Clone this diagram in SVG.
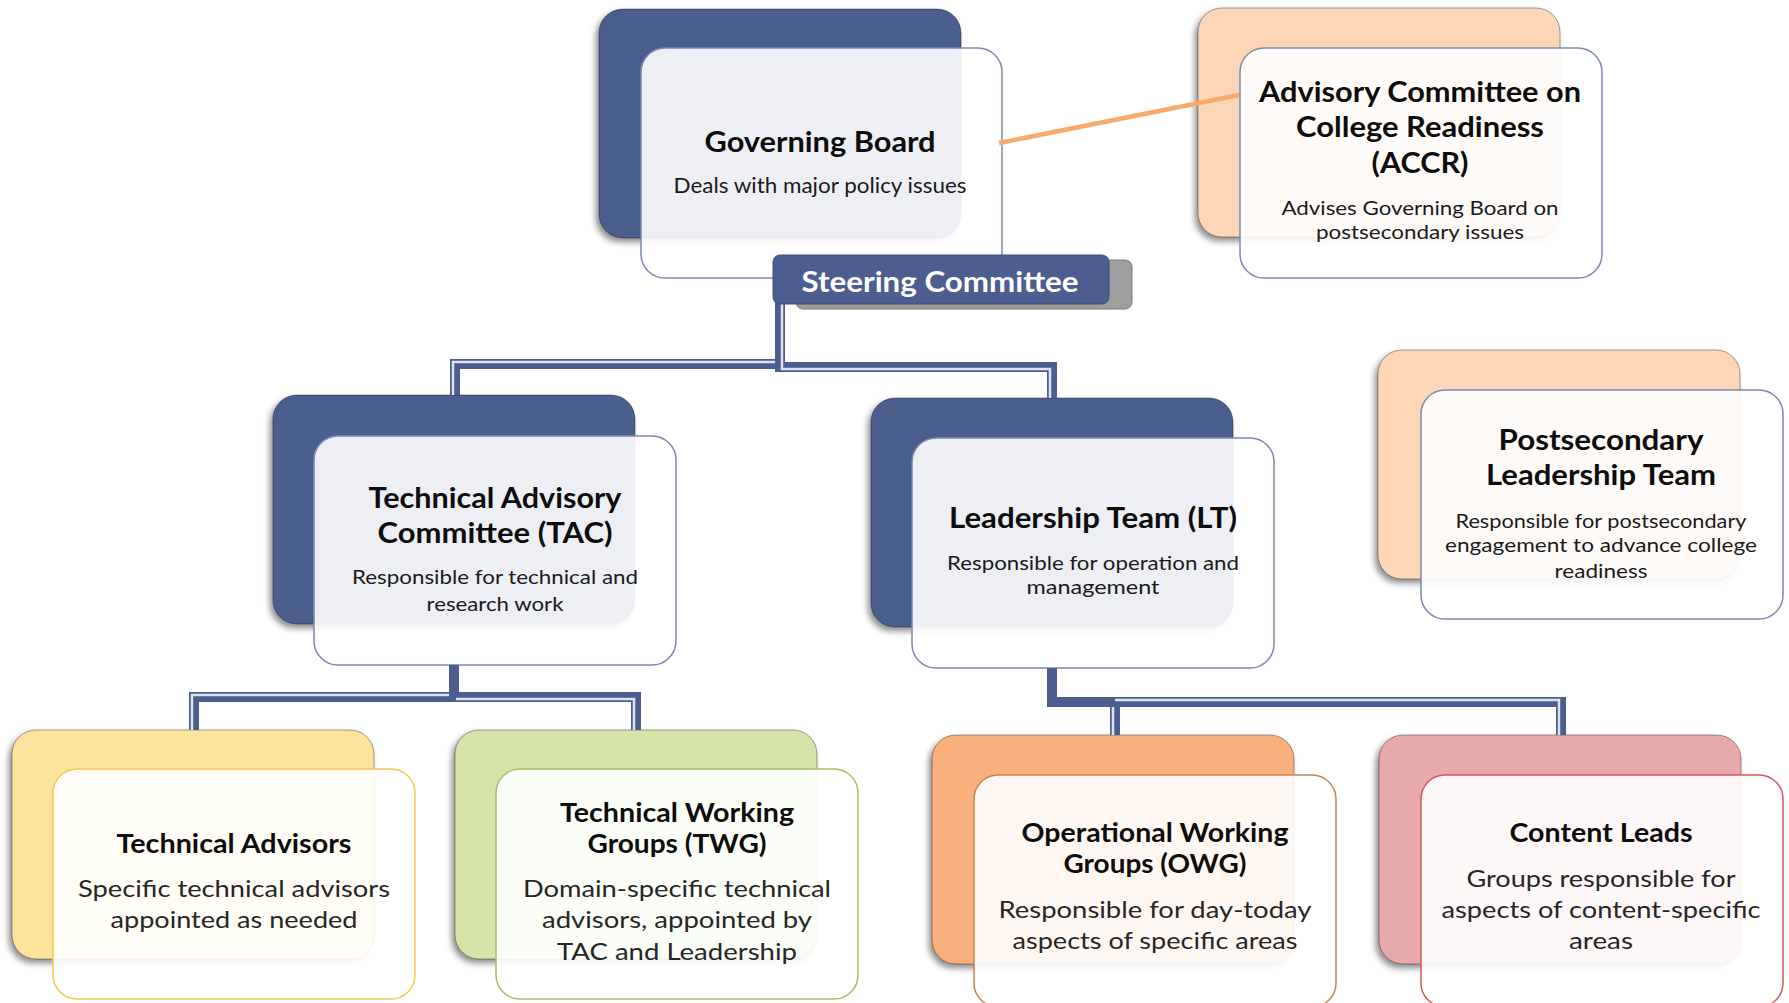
<svg xmlns="http://www.w3.org/2000/svg" width="1789" height="1003" viewBox="0 0 1789 1003">
<defs>
<filter id="sh" x="-10%" y="-10%" width="125%" height="130%">
<feDropShadow dx="-3" dy="4" stdDeviation="3" flood-color="#000" flood-opacity="0.45"/>
</filter>
</defs>
<style>
.back{stroke:#000;stroke-opacity:0.35;stroke-width:1;filter:url(#sh)}
.b-blue{fill:#4b5e8f}
.b-peach{fill:#fcd6b6}
.b-yellow{fill:#fde49d}
.b-green{fill:#d6e4a9}
.b-orange{fill:#f9b07b}
.b-pink{fill:#e8a9aa}
.front{fill:#fff;fill-opacity:0.9;stroke-width:1.5}
.f-blue{stroke:#7b88b3}
.f-yellow{stroke:#f5c84c}
.f-green{stroke:#a3c064}
.f-orange{stroke:#c58450}
.f-pink{stroke:#d9565d}
text{font-family:Lato,"Liberation Sans",sans-serif;text-anchor:middle}
.t{font-weight:700;font-size:28px;fill:#0d0d0d}
.t2{font-weight:700;font-size:26px;fill:#0d0d0d}
.s{font-size:20px;fill:#1a1a1a}
.s2{font-size:24px;fill:#262626}
.dl{fill:none;stroke:#4b5e8f;stroke-width:10;stroke-linejoin:miter}
.dli{fill:none;stroke:#dfe3ee;stroke-width:2.5;stroke-linejoin:miter}
</style>
<rect width="1789" height="1003" fill="#fff"/>

<g id="governing-board">
<rect class="back b-blue" x="599" y="9" width="362" height="229" rx="24"/>
<rect class="front f-blue" x="641" y="48" width="361" height="230" rx="24"/>
<text class="t" x="820" y="152" textLength="231" lengthAdjust="spacingAndGlyphs">Governing Board</text>
<text class="s" x="820" y="193" font-size="22" textLength="293" lengthAdjust="spacingAndGlyphs" style="font-size:22px">Deals with major policy issues</text>
</g>

<g id="accr">
<rect class="back b-peach" x="1198" y="8" width="362" height="229" rx="24"/>
<rect class="front f-blue" x="1240" y="48" width="362" height="230" rx="24"/>
<text class="t" x="1420" y="102" textLength="322" lengthAdjust="spacingAndGlyphs">Advisory Committee on</text>
<text class="t" x="1420" y="137" textLength="248" lengthAdjust="spacingAndGlyphs">College Readiness</text>
<text class="t" x="1420" y="173" textLength="97" lengthAdjust="spacingAndGlyphs">(ACCR)</text>
<text class="s" x="1420" y="215" textLength="277" lengthAdjust="spacingAndGlyphs">Advises Governing Board on</text>
<text class="s" x="1420" y="239" textLength="208" lengthAdjust="spacingAndGlyphs">postsecondary issues</text>
</g>

<g id="tac">
<rect class="back b-blue" x="273" y="395" width="362" height="229" rx="24"/>
<rect class="front f-blue" x="314" y="436" width="362" height="229" rx="24"/>
<text class="t" x="495" y="508" textLength="253" lengthAdjust="spacingAndGlyphs">Technical Advisory</text>
<text class="t" x="495" y="543" textLength="235" lengthAdjust="spacingAndGlyphs">Committee (TAC)</text>
<text class="s" x="495" y="584" textLength="286" lengthAdjust="spacingAndGlyphs">Responsible for technical and</text>
<text class="s" x="495" y="611" textLength="137" lengthAdjust="spacingAndGlyphs">research work</text>
</g>

<g id="lt">
<rect class="back b-blue" x="871" y="398" width="362" height="229" rx="24"/>
<rect class="front f-blue" x="912" y="438" width="362" height="230" rx="24"/>
<text class="t" x="1093" y="528" textLength="288" lengthAdjust="spacingAndGlyphs">Leadership Team (LT)</text>
<text class="s" x="1093" y="570" textLength="292" lengthAdjust="spacingAndGlyphs">Responsible for operation and</text>
<text class="s" x="1093" y="594" textLength="133" lengthAdjust="spacingAndGlyphs">management</text>
</g>

<g id="postsecondary-lt">
<rect class="back b-peach" x="1378" y="350" width="362" height="229" rx="24"/>
<rect class="front f-blue" x="1421" y="390" width="362" height="229" rx="24"/>
<text class="t" x="1601" y="450" textLength="205" lengthAdjust="spacingAndGlyphs">Postsecondary</text>
<text class="t" x="1601" y="485" textLength="230" lengthAdjust="spacingAndGlyphs">Leadership Team</text>
<text class="s" x="1601" y="528" textLength="291" lengthAdjust="spacingAndGlyphs">Responsible for postsecondary</text>
<text class="s" x="1601" y="552" textLength="312" lengthAdjust="spacingAndGlyphs">engagement to advance college</text>
<text class="s" x="1601" y="578" textLength="93" lengthAdjust="spacingAndGlyphs">readiness</text>
</g>

<g id="technical-advisors">
<rect class="back b-yellow" x="12" y="730" width="362" height="229" rx="24"/>
<rect class="front f-yellow" x="53" y="769" width="362" height="230" rx="24"/>
<text class="t2" x="234" y="853" textLength="235" lengthAdjust="spacingAndGlyphs">Technical Advisors</text>
<text class="s2" x="234" y="897" textLength="312" lengthAdjust="spacingAndGlyphs">Specific technical advisors</text>
<text class="s2" x="234" y="928" textLength="247" lengthAdjust="spacingAndGlyphs">appointed as needed</text>
</g>

<g id="twg">
<rect class="back b-green" x="455" y="730" width="362" height="229" rx="24"/>
<rect class="front f-green" x="496" y="769" width="362" height="230" rx="24"/>
<text class="t2" x="677" y="822" textLength="234" lengthAdjust="spacingAndGlyphs">Technical Working</text>
<text class="t2" x="677" y="853" textLength="179" lengthAdjust="spacingAndGlyphs">Groups (TWG)</text>
<text class="s2" x="677" y="897" textLength="308" lengthAdjust="spacingAndGlyphs">Domain-specific technical</text>
<text class="s2" x="677" y="928" textLength="270" lengthAdjust="spacingAndGlyphs">advisors, appointed by</text>
<text class="s2" x="677" y="960" textLength="240" lengthAdjust="spacingAndGlyphs">TAC and Leadership</text>
</g>

<g id="owg">
<rect class="back b-orange" x="932" y="735" width="362" height="229" rx="24"/>
<rect class="front f-orange" x="974" y="775" width="362" height="232" rx="24"/>
<text class="t2" x="1155" y="842" textLength="267" lengthAdjust="spacingAndGlyphs">Operational Working</text>
<text class="t2" x="1155" y="873" textLength="183" lengthAdjust="spacingAndGlyphs">Groups (OWG)</text>
<text class="s2" x="1155" y="918" textLength="313" lengthAdjust="spacingAndGlyphs">Responsible for day-today</text>
<text class="s2" x="1155" y="949" textLength="285" lengthAdjust="spacingAndGlyphs">aspects of specific areas</text>
</g>

<g id="content-leads">
<rect class="back b-pink" x="1379" y="735" width="362" height="229" rx="24"/>
<rect class="front f-pink" x="1421" y="775" width="362" height="232" rx="24"/>
<text class="t2" x="1601" y="842" textLength="183" lengthAdjust="spacingAndGlyphs">Content Leads</text>
<text class="s2" x="1601" y="887" textLength="269" lengthAdjust="spacingAndGlyphs">Groups responsible for</text>
<text class="s2" x="1601" y="918" textLength="319" lengthAdjust="spacingAndGlyphs">aspects of content-specific</text>
<text class="s2" x="1601" y="949" textLength="64" lengthAdjust="spacingAndGlyphs">areas</text>
</g>

<g id="connectors">
<path class="dl" d="M780,278 V364 H455 V395"/>
<path class="dli" d="M778,278 V362 H453 V395"/>
<path class="dl" d="M780,278 V367 H1052 V398"/>
<path class="dli" d="M782,300 V369 H1050 V398"/>
<path class="dl" d="M454,665 V697 H194 V730"/>
<path class="dli" d="M452,665 V695 H192 V730"/>
<path class="dl" d="M454,665 V697 H636 V730"/>
<path class="dli" d="M456,699 H634 V730"/>
<path class="dl" d="M1052,668 V702 H1115 V735"/>
<path class="dli" d="M1050,668 V704 H1113 V735"/>
<path class="dl" d="M1052,668 V702 H1561 V735"/>
<path class="dli" d="M1115,700 H1559 V735"/>
<line x1="999" y1="143" x2="1239" y2="95" stroke="#f9a96a" stroke-width="4.5" stroke-linecap="butt"/>
</g>

<g id="steering-committee">
<rect x="796" y="260" width="336" height="49" rx="7" fill="#9e9e9e" stroke="#7a7a7a" stroke-width="1"/>
<rect x="773" y="255" width="336" height="49" rx="7" fill="#4b5e8f" stroke="#3e4f7c" stroke-width="1"/>
<text x="940" y="292" font-weight="700" font-size="28" fill="#fff" textLength="277" lengthAdjust="spacingAndGlyphs" style="font-size:28px;font-weight:700;fill:#fff">Steering Committee</text>
</g>
</svg>
